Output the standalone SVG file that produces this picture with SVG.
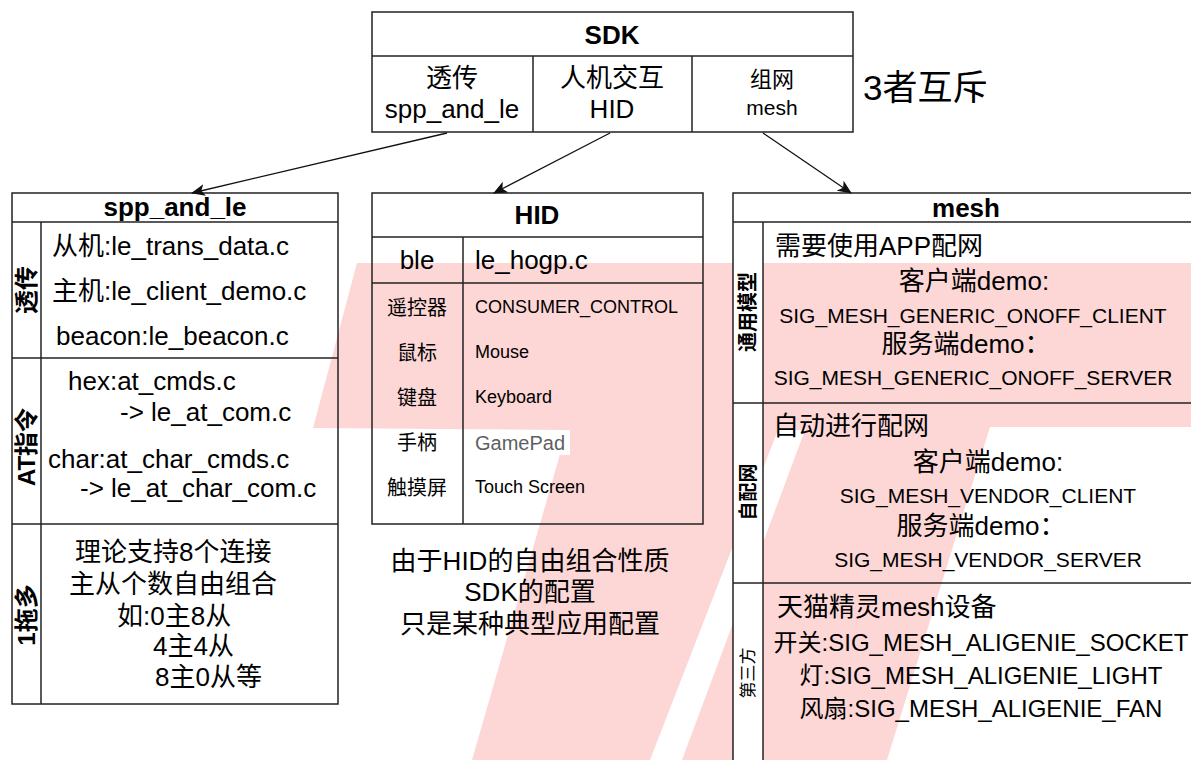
<svg xmlns="http://www.w3.org/2000/svg" width="1191" height="760" viewBox="0 0 1191 760">
<style>
.t{font-family:'Liberation Sans','Noto Sans CJK SC',sans-serif;fill:#000;font-size:26px}
.b{font-weight:bold}
.m{text-anchor:middle}
.s21{font-size:21px}
.s24{font-size:24px}
.s18{font-size:18px}
.s20{font-size:20px}
.box{fill:none;stroke:#222;stroke-width:1.5}
.ln{stroke:#222;stroke-width:1.5;fill:none}
.conn{stroke:#111;stroke-width:1.3;fill:none}
</style>
<defs>
<marker id="arr" markerUnits="userSpaceOnUse" markerWidth="14" markerHeight="12" viewBox="0 0 14 12" refX="13" refY="6" orient="auto">
<path d="M0,0 L14,6 L0,12 L3.5,6 z" fill="#111"/>
</marker>
</defs>
<rect width="1191" height="760" fill="#fff"/>
<g id="watermark">
<polygon points="357,263 1191,263 1191,427 990,427 887,760 682,760 805,430 778,430 650,760 472,760 567,430 313,428" fill="#fdd6d6"/>
</g>
<g id="sdk">
<rect class="box" x="372" y="12" width="481" height="120"/>
<line class="ln" x1="372" y1="56" x2="853" y2="56"/>
<line class="ln" x1="533" y1="56" x2="533" y2="132"/>
<line class="ln" x1="692" y1="56" x2="692" y2="132"/>
<text class="t b m" x="612" y="44">SDK</text>
<text class="t m" x="452" y="87">透传</text>
<text class="t m" x="452" y="118">spp_and_le</text>
<text class="t m" x="612" y="87">人机交互</text>
<text class="t m" x="612" y="118">HID</text>
<text class="t m" x="772" y="87" style="font-size:22px">组网</text>
<text class="t m" x="772" y="115" style="font-size:21px">mesh</text>
</g>
<g id="note-exclusive">
<text class="t" x="863" y="100" style="font-size:35px">3者互斥</text>
</g>
<g id="spp_and_le">
<rect class="box" x="12" y="193" width="326" height="511"/>
<line class="ln" x1="12" y1="222" x2="338" y2="222"/>
<line class="ln" x1="41" y1="222" x2="41" y2="704"/>
<line class="ln" x1="12" y1="358" x2="338" y2="358"/>
<line class="ln" x1="12" y1="524" x2="338" y2="524"/>
<text class="t b m" x="175" y="216">spp_and_le</text>
<text class="t b m" transform="translate(26,290) rotate(-90)" y="9" style="font-size:24px">透传</text>
<text class="t b m" transform="translate(26,447) rotate(-90)" y="9" style="font-size:24px">AT指令</text>
<text class="t b m" transform="translate(26,615) rotate(-90)" y="9" style="font-size:24px">1拖多</text>
<text class="t" x="52" y="255">从机:le_trans_data.c</text>
<text class="t" x="52" y="300">主机:le_client_demo.c</text>
<text class="t" x="56" y="345">beacon:le_beacon.c</text>
<text class="t" x="68" y="390">hex:at_cmds.c</text>
<text class="t" x="120" y="421">-&gt; le_at_com.c</text>
<text class="t" x="48" y="468">char:at_char_cmds.c</text>
<text class="t" x="80" y="497">-&gt; le_at_char_com.c</text>
<text class="t" x="75" y="561">理论支持8个连接</text>
<text class="t" x="69" y="593">主从个数自由组合</text>
<text class="t" x="117" y="625">如:0主8从</text>
<text class="t" x="153" y="655">4主4从</text>
<text class="t" x="155" y="686">8主0从等</text>
</g>
<g id="hid">
<rect class="box" x="372" y="193" width="331" height="331"/>
<line class="ln" x1="372" y1="237" x2="703" y2="237"/>
<line class="ln" x1="372" y1="283" x2="703" y2="283"/>
<line class="ln" x1="463" y1="237" x2="463" y2="524"/>
<text class="t b m" x="537" y="224">HID</text>
<text class="t m" x="417" y="269">ble</text>
<text class="t" x="475" y="269">le_hogp.c</text>
<text class="t m s20" x="417" y="315">遥控器</text>
<text class="t m s20" x="417" y="360">鼠标</text>
<text class="t m s20" x="417" y="405">键盘</text>
<text class="t m s20" x="417" y="450">手柄</text>
<text class="t m s20" x="417" y="495">触摸屏</text>
<text class="t s18" x="475" y="313">CONSUMER_CONTROL</text>
<text class="t s18" x="475" y="358">Mouse</text>
<text class="t s18" x="475" y="403">Keyboard</text>
<rect x="473" y="430" width="97" height="25" fill="#fff"/>
<text class="t s20" x="475" y="450" style="fill:#5f5f5f">GamePad</text>
<text class="t s18" x="475" y="493">Touch Screen</text>
</g>
<g id="hid-note">
<text class="t m" x="530" y="570">由于HID的自由组合性质</text>
<text class="t m" x="530" y="601">SDK的配置</text>
<text class="t m" x="530" y="633">只是某种典型应用配置</text>
</g>
<g id="mesh">
<rect x="733" y="222" width="30" height="540" fill="#fff"/>
<rect class="box" x="733" y="193" width="466" height="580"/>
<line class="ln" x1="733" y1="222" x2="1199" y2="222"/>
<line class="ln" x1="763" y1="222" x2="763" y2="773"/>
<line class="ln" x1="733" y1="403" x2="1199" y2="403"/>
<line class="ln" x1="733" y1="583" x2="1199" y2="583"/>
<text class="t b m" x="966" y="217">mesh</text>
<text class="t b m" transform="translate(748,312) rotate(-90)" y="7" style="font-size:20px">通用模型</text>
<text class="t b m" transform="translate(748,492) rotate(-90)" y="7" style="font-size:19px">自配网</text>
<text class="t m" transform="translate(748,673) rotate(-90)" y="6" style="font-size:17px">第三方</text>
<text class="t" x="775" y="255">需要使用APP配网</text>
<text class="t m" x="974" y="290">客户端demo:</text>
<text class="t m s21" x="973" y="323">SIG_MESH_GENERIC_ONOFF_CLIENT</text>
<text class="t m" x="966" y="353">服务端demo：</text>
<text class="t m s21" x="973" y="385">SIG_MESH_GENERIC_ONOFF_SERVER</text>
<text class="t" x="773" y="435">自动进行配网</text>
<text class="t m" x="988" y="471">客户端demo:</text>
<text class="t m s21" x="988" y="503">SIG_MESH_VENDOR_CLIENT</text>
<text class="t m" x="981" y="535">服务端demo：</text>
<text class="t m s21" x="988" y="567">SIG_MESH_VENDOR_SERVER</text>
<text class="t" x="777" y="616">天猫精灵mesh设备</text>
<text class="t m s24" x="981" y="651">开关:SIG_MESH_ALIGENIE_SOCKET</text>
<text class="t m s24" x="981" y="684">灯:SIG_MESH_ALIGENIE_LIGHT</text>
<text class="t m s24" x="981" y="717">风扇:SIG_MESH_ALIGENIE_FAN</text>
</g>
<g id="connectors">
<line class="conn" x1="447" y1="133" x2="192" y2="193" marker-end="url(#arr)"/>
<line class="conn" x1="610" y1="133" x2="494" y2="193" marker-end="url(#arr)"/>
<line class="conn" x1="763" y1="133" x2="851" y2="193" marker-end="url(#arr)"/>
</g>
</svg>
